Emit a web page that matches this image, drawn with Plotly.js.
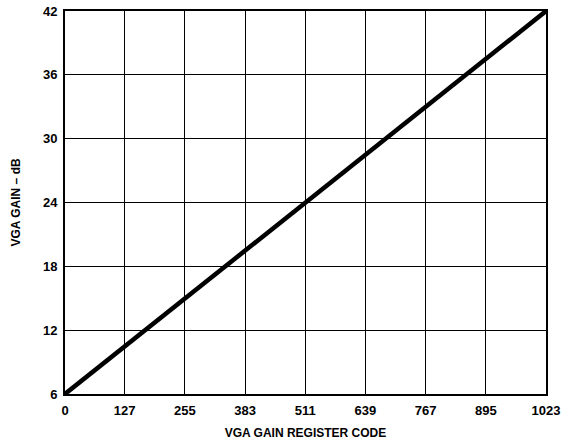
<!DOCTYPE html>
<html><head><meta charset="utf-8">
<script src="https://cdn.plot.ly/plotly-3.0.1.min.js"></script>
<style>html,body{margin:0;padding:0;background:#fff}#c{width:566px;height:444px}</style>
</head><body><div id="c"></div>
<script>
const codes = [0, 1023];
const gainDb = [6, 42];
const xTicks = [0, 127, 255, 383, 511, 639, 767, 895, 1023];
const yTicks = [6, 12, 18, 24, 30, 36, 42];

const fontFam = 'Liberation Sans, Arial, Helvetica, sans-serif';
Plotly.newPlot('c', [{
  x: codes, y: gainDb, type: 'scatter', mode: 'lines',
  line: {color: '#000', width: 4.5}, hoverinfo: 'skip'
}], {
  width: 566, height: 444,
  margin: {l: 65, r: 20, t: 11, b: 50},
  paper_bgcolor: '#fff', plot_bgcolor: '#fff',
  showlegend: false,
  font: {family: fontFam, color: '#000', size: 12},
  xaxis: {
    range: [0, 1023], tickvals: xTicks, ticktext: xTicks.map(v => '<b>' + v + '</b>'),
    showgrid: true, gridcolor: '#000', gridwidth: 1,
    showline: true, linecolor: '#000', linewidth: 2, mirror: true,
    zeroline: false, ticks: 'outside', ticklen: 3, tickcolor: 'rgba(0,0,0,0)',
    tickfont: {family: fontFam, size: 13},
    title: {text: '<b>VGA GAIN REGISTER CODE</b>', font: {family: fontFam, size: 12}, standoff: 12}
  },
  yaxis: {
    range: [6, 42], tickvals: yTicks, ticktext: yTicks.map(v => '<b>' + v + '</b>'),
    showgrid: true, gridcolor: '#000', gridwidth: 1,
    showline: true, linecolor: '#000', linewidth: 2, mirror: true,
    zeroline: false, ticks: 'outside', ticklen: 3, tickcolor: 'rgba(0,0,0,0)',
    tickfont: {family: fontFam, size: 13},
    title: {text: '<b>VGA GAIN – dB</b>', font: {family: fontFam, size: 12}, standoff: 20}
  }
}, {staticPlot: true, displayModeBar: false});
</script></body></html>
